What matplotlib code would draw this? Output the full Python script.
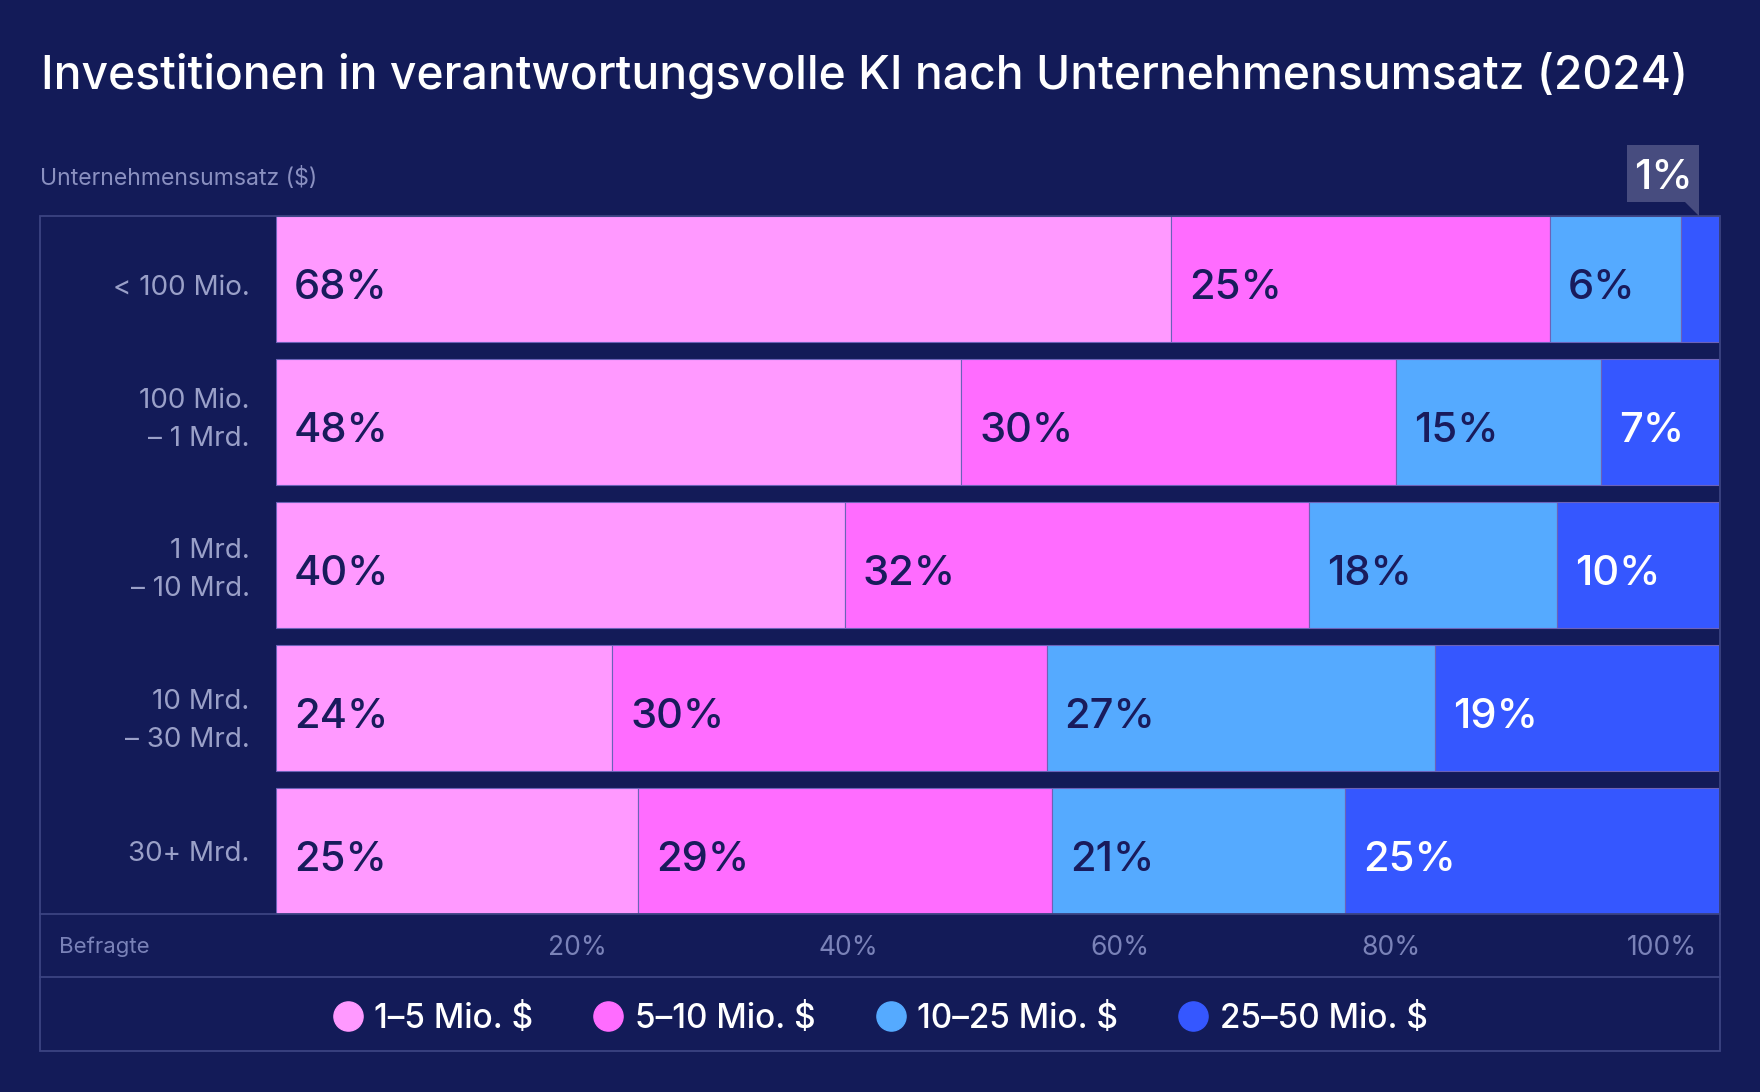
import matplotlib
matplotlib.use('Agg')
import matplotlib.pyplot as plt
import matplotlib.transforms as mtransforms
from matplotlib.lines import Line2D
from matplotlib.patches import Polygon

plt.rcParams['font.family'] = ['Inter', 'DejaVu Sans']

# data
categories = ['< 100 Mio.', '100 Mio.\n\u2013 1 Mrd.', '1 Mrd.\n\u2013 10 Mrd.',
              '10 Mrd.\n\u2013 30 Mrd.', '30+ Mrd.']
series = ['1\u20135 Mio. $', '5\u201310 Mio. $', '10\u201325 Mio. $', '25\u201350 Mio. $']
# drawn bar lengths (as measured on the chart)
s1 = [62.0, 47.5, 39.4, 23.3, 25.1]
s2 = [26.3, 30.1, 32.2, 30.1, 28.7]
s3 = [9.1, 14.2, 17.2, 26.9, 20.3]
s4 = [2.6, 8.2, 11.2, 19.7, 25.9]
# printed labels
l1 = ['68%', '48%', '40%', '24%', '25%']
l2 = ['25%', '30%', '32%', '30%', '29%']
l3 = ['6%', '15%', '18%', '27%', '21%']
l4 = ['1%', '7%', '10%', '19%', '25%']
tick_vals = [20, 40, 60, 80, 100]

colors = ['#ff99ff', '#ff6cff', '#55aaff', '#3557ff']
txt_colors = ['#191b5c', '#191b5c', '#191b5c', 'white']
BG = '#131b58'
LINE = '#3b4382'

W, H = 1760, 1092
def fx(x):
    return x / W
def fy(y):
    return 1 - y / H

fig = plt.figure(figsize=(17.6, 10.92), dpi=100, facecolor=BG)

# frame and separators
fig.add_artist(plt.Rectangle((fx(39.5), fy(1051)), fx(1719.5) - fx(39.5), fy(216) - fy(1051),
                             fill=False, edgecolor=LINE, lw=1.3, transform=fig.transFigure))
for yy in [914, 977]:
    fig.add_artist(Line2D([fx(39.5), fx(1719.5)], [fy(yy), fy(yy)], color=LINE, lw=1.3,
                          transform=fig.transFigure))

ax = fig.add_axes([fx(276), fy(914), fx(1719) - fx(276), fy(216) - fy(914)])
ax.patch.set_alpha(0)

f = 0.884
ys = list(range(len(categories)))
left = [0] * len(categories)
for vals, labs, c, tc in zip([s1, s2, s3, s4], [l1, l2, l3, l4], colors, txt_colors):
    ax.barh(ys, vals, left=left, height=f, color=c, edgecolor='#6c62b8', lw=0.8)
    for i, (v, lab) in enumerate(zip(vals, labs)):
        if v > 5:
            ax.text(left[i] + 1.25, ys[i] + 0.14, lab, color=tc, fontsize=30,
                    fontweight='medium', va='baseline', ha='left')
    left = [a + b for a, b in zip(left, vals)]

ax.set_xlim(0, 100)
ax.set_ylim(len(categories) - 1 + f / 2, -f / 2)
ax.set_yticks(ys)
ax.set_yticklabels(categories, fontsize=20, color='#9aa0c8', linespacing=1.6)
ax.tick_params(axis='y', length=0, pad=19)
# small vertical nudges of the row labels (points)
nudges = [-4, 8, 3.2, -3.3, 0]
for lab, dy in zip(ax.get_yticklabels(), nudges):
    lab.set_transform(lab.get_transform() +
                      mtransforms.ScaledTranslation(0, dy / 72, fig.dpi_scale_trans))
ax.set_xticks([])
for sp in ax.spines.values():
    sp.set_visible(False)

# tick row
axt = fig.add_axes([fx(306.7), fy(948), fx(1662) - fx(306.7), 0.0001])
axt.set_xlim(0, 100)
axt.set_xticks(tick_vals)
axt.set_xticklabels([f'{t}%' for t in tick_vals], fontsize=19, color='#7a82b8', va='center')
axt.tick_params(axis='x', length=0, pad=0)
axt.set_yticks([])
axt.patch.set_alpha(0)
for sp in axt.spines.values():
    sp.set_visible(False)

fig.text(fx(59), fy(947), 'Befragte', fontsize=16, color='#7a82b8', va='center', ha='left')

# title and axis caption
fig.text(fx(41), fy(89), 'Investitionen in verantwortungsvolle KI nach Unternehmensumsatz (2024)',
         fontsize=33.3, fontweight='medium', color='white', va='baseline', ha='left')
fig.text(fx(40), fy(179), 'Unternehmensumsatz ($)', fontsize=16.6, color='#8a90c0',
         va='center', ha='left')

# callout for the 1% segment
fig.add_artist(Polygon([(fx(1627), fy(145)), (fx(1699), fy(145)), (fx(1699), fy(216)),
                        (fx(1685), fy(202)), (fx(1627), fy(202))],
                       closed=True, facecolor='#474c7f', edgecolor='none',
                       transform=fig.transFigure))
fig.text(fx(1663), fy(189), l4[0], fontsize=30, fontweight='medium', color='white',
         va='baseline', ha='center')

# legend
handles = [Line2D([], [], marker='o', ls='', ms=21, color=c) for c in colors]
fig.legend(handles, series, loc='center', bbox_to_anchor=(fx(879.5), fy(1019)), ncol=4,
           frameon=False, labelcolor='white', handlelength=1.0,
           handletextpad=0.3, columnspacing=1.75, borderpad=0,
           prop={'size': 24, 'weight': 'medium'})

fig.savefig('out.png', dpi=100, facecolor=BG)
